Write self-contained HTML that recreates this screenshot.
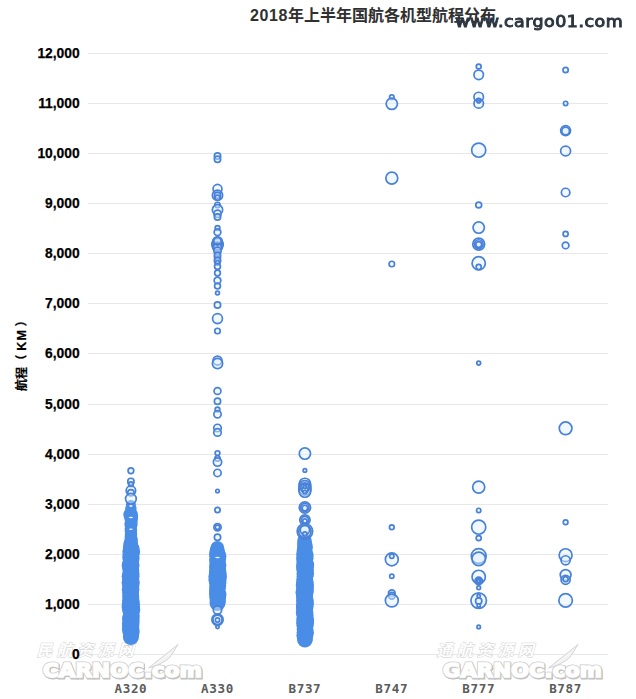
<!DOCTYPE html>
<html lang="zh-CN">
<head>
<meta charset="utf-8">
<title>2018年上半年国航各机型航程分布</title>
<style>
html,body{margin:0;padding:0;background:#fff;}
body{width:636px;height:699px;overflow:hidden;position:relative;}
svg{position:absolute;left:0;top:0;display:block;}
.title{font-family:"Liberation Sans","Noto Sans CJK SC",sans-serif;font-weight:bold;font-size:16px;fill:#303030;}
.title .num{letter-spacing:0.6px;}
.ylab text{font-family:"Liberation Sans","Noto Sans CJK SC",sans-serif;font-weight:bold;font-size:13.8px;fill:#000;stroke:#000;stroke-width:0.25;text-anchor:end;}
.xlab text{font-family:"DejaVu Sans Mono","Liberation Mono",monospace;font-weight:bold;font-size:12.6px;letter-spacing:0.65px;fill:#5c5c5c;text-anchor:middle;}
.ytitle{font-family:"Liberation Sans","Noto Sans CJK SC",sans-serif;font-weight:bold;font-size:12px;fill:#000;stroke:#000;stroke-width:0.2;}
.grid line{stroke:#e8e8e8;stroke-width:1;shape-rendering:crispEdges;}
.wm{font-family:"DejaVu Sans","Liberation Sans",sans-serif;font-size:15.6px;fill:#2c3640;stroke:#2c3640;stroke-width:0.95;}
.wmcn{font-family:"Noto Sans CJK SC","Noto Serif CJK SC",sans-serif;font-weight:bold;font-size:16px;letter-spacing:4.3px;fill:#fff;stroke:#cdcdcd;stroke-width:0.9;paint-order:stroke;}
.wmen{font-family:"DejaVu Sans","Liberation Sans",sans-serif;font-weight:bold;font-size:19.2px;}
.wmen.s{fill:#bcbcbc;stroke:#bcbcbc;stroke-width:2.8;}
.wmen.o{fill:#cbcbcb;stroke:#cbcbcb;stroke-width:3;}
.wmen.w{fill:#fff;stroke:#fff;stroke-width:1.5;}
</style>
</head>
<body>
<svg width="636" height="699" viewBox="0 0 636 699">
<defs>
<filter id="blur1" x="-5%" y="-30%" width="110%" height="160%"><feGaussianBlur stdDeviation="0.4"/></filter>
<filter id="blur2" x="-5%" y="-30%" width="110%" height="160%"><feGaussianBlur stdDeviation="0.7"/></filter>
</defs>
<rect width="636" height="699" fill="#fff"/>
<g class="grid">
<line x1="88" x2="608" y1="654.5" y2="654.5"/>
<line x1="88" x2="608" y1="604.5" y2="604.5"/>
<line x1="88" x2="608" y1="554.5" y2="554.5"/>
<line x1="88" x2="608" y1="504.5" y2="504.5"/>
<line x1="88" x2="608" y1="454.5" y2="454.5"/>
<line x1="88" x2="608" y1="404.5" y2="404.5"/>
<line x1="88" x2="608" y1="353.5" y2="353.5"/>
<line x1="88" x2="608" y1="303.5" y2="303.5"/>
<line x1="88" x2="608" y1="253.5" y2="253.5"/>
<line x1="88" x2="608" y1="203.5" y2="203.5"/>
<line x1="88" x2="608" y1="153.5" y2="153.5"/>
<line x1="88" x2="608" y1="103.5" y2="103.5"/>
<line x1="88" x2="608" y1="53.5" y2="53.5"/>
</g>
<!-- watermarks -->
<g id="wm1">
<text class="wmcn" transform="translate(36.5,655.5) skewX(-14)">民航资源网</text>
<path d="M148.5 668 L178 644.5 L170 657 C165 662 157 666 148.5 668 Z" fill="#f4f4f4" stroke="#d4d4d4" stroke-width="1"/>
<text class="wmen s" x="43.8" y="677.9" textLength="159" lengthAdjust="spacingAndGlyphs" filter="url(#blur2)">CARNOC.com</text>
<text class="wmen o" x="43" y="677" textLength="159" lengthAdjust="spacingAndGlyphs">CARNOC.com</text>
<text class="wmen w" x="43" y="677" textLength="159" lengthAdjust="spacingAndGlyphs">CARNOC.com</text>
</g>
<g id="wm2">
<text class="wmcn" transform="translate(436.5,655.5) skewX(-14)">通航资源网</text>
<path d="M548.5 668 L578 644.5 L570 657 C565 662 557 666 548.5 668 Z" fill="#f4f4f4" stroke="#d4d4d4" stroke-width="1"/>
<text class="wmen s" x="443.8" y="677.9" textLength="159" lengthAdjust="spacingAndGlyphs" filter="url(#blur2)">GARNOC.com</text>
<text class="wmen o" x="443" y="677" textLength="159" lengthAdjust="spacingAndGlyphs">GARNOC.com</text>
<text class="wmen w" x="443" y="677" textLength="159" lengthAdjust="spacingAndGlyphs">GARNOC.com</text>
</g>
<g class="ylab">
<text x="79.6" y="659.2">0</text>
<text x="79.6" y="609.2">1,000</text>
<text x="79.6" y="559.2">2,000</text>
<text x="79.6" y="509.2">3,000</text>
<text x="79.6" y="459.2">4,000</text>
<text x="79.6" y="409.2">5,000</text>
<text x="79.6" y="358.2">6,000</text>
<text x="79.6" y="308.2">7,000</text>
<text x="79.6" y="258.2">8,000</text>
<text x="79.6" y="208.2">9,000</text>
<text x="79.6" y="158.2">10,000</text>
<text x="79.6" y="108.2">11,000</text>
<text x="79.6" y="58.2">12,000</text>
</g>
<text class="ytitle" transform="translate(25.8,391) rotate(-90)"><tspan x="0">航程</tspan><tspan x="24.5">（</tspan><tspan x="40.2" font-size="12.5" letter-spacing="1.2">KM</tspan><tspan x="64.5">）</tspan></text>
<g id="marks">
<g fill="#4a8de6" stroke="none">
<circle cx="130.9" cy="505.0" r="5.0"/>
<circle cx="130.9" cy="508.5" r="5.7"/>
<circle cx="130.9" cy="511.5" r="5.3"/>
<circle cx="130.6" cy="514.6" r="7.3"/>
<circle cx="131.1" cy="517.2" r="7.0"/>
<circle cx="131.3" cy="520.4" r="6.4"/>
<circle cx="131.0" cy="523.9" r="6.7"/>
<circle cx="130.9" cy="526.4" r="6.0"/>
<circle cx="130.7" cy="528.6" r="6.0"/>
<circle cx="130.9" cy="530.9" r="6.2"/>
<circle cx="131.0" cy="534.3" r="6.2"/>
<circle cx="130.9" cy="537.2" r="6.3"/>
<circle cx="131.3" cy="539.8" r="6.6"/>
<circle cx="130.8" cy="543.1" r="7.2"/>
<circle cx="130.6" cy="545.7" r="7.5"/>
<circle cx="131.2" cy="548.9" r="8.3"/>
<circle cx="131.2" cy="551.7" r="8.9"/>
<circle cx="131.2" cy="553.9" r="8.0"/>
<circle cx="130.8" cy="556.7" r="8.6"/>
<circle cx="131.1" cy="559.0" r="8.4"/>
<circle cx="130.8" cy="561.6" r="8.0"/>
<circle cx="130.6" cy="565.2" r="8.9"/>
<circle cx="130.5" cy="567.7" r="8.2"/>
<circle cx="130.9" cy="571.0" r="8.4"/>
<circle cx="131.1" cy="573.8" r="8.4"/>
<circle cx="130.6" cy="576.2" r="8.9"/>
<circle cx="130.7" cy="579.0" r="8.5"/>
<circle cx="130.7" cy="582.6" r="9.1"/>
<circle cx="130.8" cy="586.0" r="8.5"/>
<circle cx="130.6" cy="589.4" r="8.8"/>
<circle cx="130.7" cy="593.0" r="8.4"/>
<circle cx="130.7" cy="596.3" r="8.5"/>
<circle cx="131.0" cy="598.6" r="8.2"/>
<circle cx="130.8" cy="601.1" r="8.7"/>
<circle cx="130.9" cy="604.0" r="9.1"/>
<circle cx="130.6" cy="607.0" r="9.0"/>
<circle cx="131.2" cy="609.4" r="9.1"/>
<circle cx="131.1" cy="611.9" r="8.3"/>
<circle cx="131.3" cy="615.4" r="8.4"/>
<circle cx="130.8" cy="618.9" r="8.8"/>
<circle cx="131.3" cy="621.2" r="8.2"/>
<circle cx="130.7" cy="623.8" r="8.8"/>
<circle cx="130.7" cy="627.1" r="8.6"/>
<circle cx="130.6" cy="629.6" r="8.7"/>
<circle cx="131.2" cy="632.1" r="8.5"/>
<circle cx="131.2" cy="635.1" r="7.8"/>
<circle cx="130.9" cy="637.0" r="8.0"/>
<circle cx="217.3" cy="548.0" r="6.9"/>
<circle cx="217.2" cy="550.8" r="7.5"/>
<circle cx="217.2" cy="553.5" r="8.2"/>
<circle cx="217.9" cy="556.2" r="8.5"/>
<circle cx="217.6" cy="559.4" r="8.4"/>
<circle cx="217.1" cy="561.8" r="7.8"/>
<circle cx="217.9" cy="565.2" r="8.5"/>
<circle cx="217.5" cy="567.5" r="8.5"/>
<circle cx="217.9" cy="570.7" r="8.3"/>
<circle cx="217.7" cy="573.0" r="8.8"/>
<circle cx="217.7" cy="576.5" r="9.3"/>
<circle cx="217.4" cy="579.8" r="9.0"/>
<circle cx="217.8" cy="582.9" r="8.6"/>
<circle cx="217.8" cy="585.7" r="8.4"/>
<circle cx="217.4" cy="588.7" r="8.2"/>
<circle cx="217.2" cy="591.7" r="8.2"/>
<circle cx="217.8" cy="594.8" r="8.7"/>
<circle cx="217.7" cy="598.0" r="8.3"/>
<circle cx="217.8" cy="601.1" r="8.0"/>
<circle cx="217.5" cy="603.0" r="8.0"/>
<circle cx="304.5" cy="541.0" r="7.3"/>
<circle cx="304.7" cy="544.0" r="7.6"/>
<circle cx="305.0" cy="547.2" r="7.9"/>
<circle cx="304.5" cy="550.7" r="7.8"/>
<circle cx="304.7" cy="553.3" r="8.3"/>
<circle cx="305.0" cy="555.8" r="8.6"/>
<circle cx="304.8" cy="558.6" r="8.7"/>
<circle cx="304.8" cy="561.7" r="8.2"/>
<circle cx="305.2" cy="565.0" r="9.0"/>
<circle cx="304.8" cy="567.8" r="8.7"/>
<circle cx="305.2" cy="570.2" r="8.6"/>
<circle cx="305.3" cy="573.6" r="8.8"/>
<circle cx="304.9" cy="576.2" r="8.3"/>
<circle cx="304.8" cy="578.7" r="8.3"/>
<circle cx="304.8" cy="581.8" r="8.6"/>
<circle cx="304.9" cy="585.2" r="9.1"/>
<circle cx="305.2" cy="587.5" r="8.2"/>
<circle cx="305.0" cy="589.7" r="8.9"/>
<circle cx="304.5" cy="592.4" r="9.0"/>
<circle cx="304.5" cy="594.8" r="8.6"/>
<circle cx="304.6" cy="598.1" r="8.4"/>
<circle cx="304.9" cy="600.4" r="8.8"/>
<circle cx="305.1" cy="603.5" r="8.8"/>
<circle cx="304.7" cy="607.0" r="8.8"/>
<circle cx="304.5" cy="609.9" r="8.3"/>
<circle cx="304.6" cy="612.7" r="8.8"/>
<circle cx="305.1" cy="615.3" r="8.4"/>
<circle cx="305.1" cy="618.3" r="8.6"/>
<circle cx="305.2" cy="621.0" r="8.8"/>
<circle cx="305.1" cy="623.3" r="8.9"/>
<circle cx="305.0" cy="625.7" r="8.4"/>
<circle cx="305.0" cy="629.2" r="8.3"/>
<circle cx="305.3" cy="632.6" r="8.7"/>
<circle cx="304.7" cy="635.5" r="8.3"/>
<circle cx="305.0" cy="638.7" r="7.9"/>
<circle cx="304.9" cy="640.0" r="7.6"/>
</g>
<g fill="#e8f3ff" stroke="none">
<ellipse cx="130.9" cy="506.0" rx="1.6" ry="0.9"/>
<ellipse cx="130.9" cy="517.5" rx="2.2" ry="0.8"/>
<ellipse cx="130.9" cy="529.3" rx="1.8" ry="0.7"/>
<ellipse cx="304.9" cy="532.8" rx="2.0" ry="1.0"/>
<ellipse cx="304.9" cy="507.0" rx="1.8" ry="0.8"/>
<ellipse cx="304.9" cy="510.5" rx="1.8" ry="0.7"/>
<ellipse cx="304.9" cy="519.5" rx="1.5" ry="0.7"/>
<ellipse cx="217.5" cy="557.5" rx="2.4" ry="0.8"/>
</g>
<g fill="#dff0ff" fill-opacity="0.45" stroke="#4881d8" stroke-width="1.70">
<circle cx="391.8" cy="97.2" r="2.25"/>
<circle cx="391.8" cy="103.8" r="5.65"/>
<circle cx="391.8" cy="178.1" r="5.95"/>
<circle cx="391.8" cy="264.0" r="2.75"/>
<circle cx="391.8" cy="527.3" r="2.35"/>
<circle cx="391.8" cy="559.4" r="6.45"/>
<circle cx="391.8" cy="556.2" r="2.15"/>
<circle cx="391.8" cy="576.2" r="2.15"/>
<circle cx="391.8" cy="593.3" r="3.35"/>
<circle cx="391.8" cy="595.7" r="3.35"/>
<circle cx="391.8" cy="600.5" r="6.45"/>
<circle cx="478.7" cy="66.5" r="2.45"/>
<circle cx="478.7" cy="74.8" r="4.75"/>
<circle cx="478.7" cy="97.0" r="4.75"/>
<circle cx="478.7" cy="103.4" r="4.75"/>
<circle cx="478.7" cy="100.5" r="2.15"/>
<circle cx="478.7" cy="101.5" r="1.35"/>
<circle cx="478.7" cy="150.2" r="7.05"/>
<circle cx="478.7" cy="205.0" r="2.95"/>
<circle cx="478.7" cy="227.6" r="5.65"/>
<circle cx="478.7" cy="244.1" r="5.95"/>
<circle cx="478.7" cy="244.1" r="4.35"/>
<circle cx="478.7" cy="244.5" r="2.95"/>
<circle cx="478.7" cy="263.3" r="6.65"/>
<circle cx="478.7" cy="267.0" r="2.55"/>
<circle cx="478.7" cy="363.1" r="1.95"/>
<circle cx="478.7" cy="487.1" r="6.05"/>
<circle cx="478.7" cy="510.4" r="2.15"/>
<circle cx="478.7" cy="527.2" r="7.05"/>
<circle cx="478.7" cy="538.1" r="2.55"/>
<circle cx="478.7" cy="556.0" r="7.45"/>
<circle cx="478.7" cy="558.8" r="6.75"/>
<circle cx="478.7" cy="576.9" r="6.65"/>
<circle cx="478.7" cy="580.9" r="3.75"/>
<circle cx="478.7" cy="580.9" r="2.45"/>
<circle cx="478.7" cy="580.9" r="1.35"/>
<circle cx="478.7" cy="587.8" r="1.85"/>
<circle cx="478.7" cy="600.6" r="7.75"/>
<circle cx="478.7" cy="596.0" r="1.65"/>
<circle cx="478.7" cy="601.0" r="3.15"/>
<circle cx="478.7" cy="605.4" r="1.65"/>
<circle cx="478.7" cy="626.9" r="1.75"/>
<circle cx="565.6" cy="70.0" r="2.65"/>
<circle cx="565.6" cy="103.4" r="2.15"/>
<circle cx="565.6" cy="130.6" r="4.95"/>
<circle cx="565.6" cy="130.9" r="3.85"/>
<circle cx="565.6" cy="151.0" r="4.95"/>
<circle cx="565.6" cy="192.5" r="4.25"/>
<circle cx="565.6" cy="233.9" r="2.55"/>
<circle cx="565.6" cy="245.4" r="3.35"/>
<circle cx="565.6" cy="428.3" r="6.35"/>
<circle cx="565.6" cy="522.3" r="2.35"/>
<circle cx="565.6" cy="555.2" r="6.45"/>
<circle cx="565.6" cy="560.3" r="4.55"/>
<circle cx="565.6" cy="575.0" r="5.35"/>
<circle cx="565.6" cy="579.8" r="4.55"/>
<circle cx="565.6" cy="579.2" r="2.55"/>
<circle cx="565.6" cy="600.4" r="6.75"/>
<circle cx="217.5" cy="156.0" r="3.15"/>
<circle cx="217.5" cy="159.2" r="3.15"/>
<circle cx="217.5" cy="188.9" r="4.45"/>
<circle cx="217.5" cy="195.3" r="5.15"/>
<circle cx="217.5" cy="195.3" r="3.15"/>
<circle cx="217.5" cy="197.7" r="2.55"/>
<circle cx="217.5" cy="204.9" r="2.65"/>
<circle cx="217.5" cy="209.7" r="5.15"/>
<circle cx="217.5" cy="213.7" r="3.65"/>
<circle cx="217.5" cy="217.0" r="3.15"/>
<circle cx="217.5" cy="228.0" r="2.35"/>
<circle cx="217.5" cy="232.2" r="3.35"/>
<circle cx="217.5" cy="244.4" r="5.75"/>
<circle cx="217.5" cy="243.5" r="4.55"/>
<circle cx="217.5" cy="244.8" r="3.55"/>
<circle cx="217.5" cy="245.5" r="2.45"/>
<circle cx="217.5" cy="246.0" r="1.35"/>
<circle cx="217.5" cy="241.5" r="4.75"/>
<circle cx="217.5" cy="247.2" r="4.75"/>
<circle cx="217.5" cy="241.0" r="3.65"/>
<circle cx="217.5" cy="248.0" r="4.15"/>
<circle cx="217.5" cy="244.4" r="0.75"/>
<circle cx="217.5" cy="252.5" r="2.95"/>
<circle cx="217.5" cy="254.0" r="2.55"/>
<circle cx="217.5" cy="257.5" r="2.95"/>
<circle cx="217.5" cy="259.0" r="2.35"/>
<circle cx="217.5" cy="261.5" r="2.75"/>
<circle cx="217.5" cy="250.8" r="3.65"/>
<circle cx="217.5" cy="255.6" r="3.15"/>
<circle cx="217.5" cy="260.4" r="3.15"/>
<circle cx="217.5" cy="262.9" r="2.15"/>
<circle cx="217.5" cy="266.5" r="2.95"/>
<circle cx="217.5" cy="273.0" r="2.85"/>
<circle cx="217.5" cy="280.5" r="3.35"/>
<circle cx="217.5" cy="286.0" r="2.95"/>
<circle cx="217.5" cy="293.0" r="1.95"/>
<circle cx="217.5" cy="305.0" r="3.15"/>
<circle cx="217.5" cy="318.6" r="4.95"/>
<circle cx="217.5" cy="331.0" r="2.75"/>
<circle cx="217.5" cy="360.6" r="4.45"/>
<circle cx="217.5" cy="363.5" r="5.15"/>
<circle cx="217.5" cy="391.0" r="3.45"/>
<circle cx="217.5" cy="401.2" r="3.15"/>
<circle cx="217.5" cy="409.5" r="2.35"/>
<circle cx="217.5" cy="414.3" r="3.65"/>
<circle cx="217.5" cy="428.0" r="3.75"/>
<circle cx="217.5" cy="432.4" r="3.75"/>
<circle cx="217.5" cy="453.1" r="2.35"/>
<circle cx="217.5" cy="458.4" r="2.65"/>
<circle cx="217.5" cy="462.1" r="4.15"/>
<circle cx="217.5" cy="472.9" r="3.65"/>
<circle cx="217.5" cy="491.0" r="1.75"/>
<circle cx="217.5" cy="510.0" r="2.65"/>
<circle cx="217.5" cy="527.3" r="3.65"/>
<circle cx="217.5" cy="527.3" r="2.15"/>
<circle cx="217.5" cy="537.3" r="3.15"/>
<circle cx="217.5" cy="610.0" r="4.15"/>
<circle cx="217.5" cy="619.7" r="5.65"/>
<circle cx="217.5" cy="619.7" r="4.55"/>
<circle cx="217.5" cy="620.0" r="2.15"/>
<circle cx="217.5" cy="627.0" r="1.65"/>
<circle cx="130.9" cy="470.7" r="2.85"/>
<circle cx="130.9" cy="481.4" r="3.15"/>
<circle cx="130.9" cy="484.2" r="2.35"/>
<circle cx="130.9" cy="490.6" r="4.75"/>
<circle cx="130.9" cy="492.7" r="3.15"/>
<circle cx="130.9" cy="498.8" r="5.35"/>
<circle cx="304.9" cy="453.6" r="5.65"/>
<circle cx="304.9" cy="470.4" r="1.75"/>
<circle cx="304.9" cy="484.0" r="5.75"/>
<circle cx="304.9" cy="486.5" r="5.95"/>
<circle cx="304.9" cy="489.0" r="6.15"/>
<circle cx="304.9" cy="491.5" r="5.75"/>
<circle cx="304.9" cy="488.0" r="4.15"/>
<circle cx="304.9" cy="490.0" r="2.95"/>
<circle cx="304.9" cy="492.0" r="1.75"/>
<circle cx="304.9" cy="487.0" r="1.55"/>
<circle cx="304.9" cy="507.5" r="5.65"/>
<circle cx="304.9" cy="507.5" r="4.15"/>
<circle cx="304.9" cy="508.0" r="2.75"/>
<circle cx="304.9" cy="520.0" r="5.15"/>
<circle cx="304.9" cy="520.0" r="3.65"/>
<circle cx="304.9" cy="521.0" r="2.15"/>
<circle cx="304.9" cy="531.3" r="7.75"/>
<circle cx="304.9" cy="531.5" r="6.15"/>
<circle cx="304.9" cy="530.0" r="4.65"/>
<circle cx="304.9" cy="534.0" r="2.15"/>
</g>
</g>
<g class="xlab">
<text x="130.9" y="692.6">A320</text>
<text x="217.5" y="692.6">A330</text>
<text x="304.9" y="692.6">B737</text>
<text x="391.8" y="692.6">B747</text>
<text x="478.7" y="692.6">B777</text>
<text x="565.6" y="692.6">B787</text>
</g>
<text class="title" x="250" y="21.3"><tspan class="num">2018</tspan>年上半年国航各机型航程分布</text>
<text class="wm" transform="translate(455.2,27.2) scale(1.12,1)" x="0" y="0" textLength="149.6" lengthAdjust="spacing" filter="url(#blur1)">www.cargo01.com</text>
</svg>
</body>
</html>
